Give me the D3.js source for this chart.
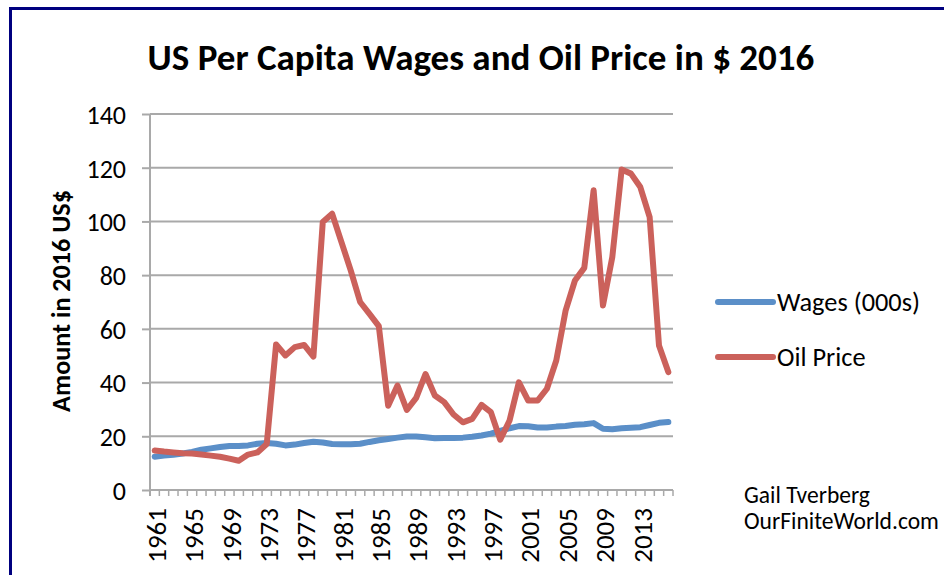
<!DOCTYPE html>
<html><head><meta charset="utf-8">
<script src="https://cdn.jsdelivr.net/npm/d3@7"></script>
<style>
html,body{margin:0;padding:0;background:#fff;}
svg{display:block;}
text{font-family:Carlito,Calibri,Lato,sans-serif;fill:#000;}
</style></head>
<body>
<svg id="chart" width="944" height="575"></svg>
<script>
const years = d3.range(1961, 2017);
const wages = [12.4,12.8,13.1,13.6,14.2,15.0,15.5,16.0,16.4,16.4,16.6,17.2,17.5,17.2,16.6,16.9,17.5,18.0,17.7,17.1,
  17.0,17.0,17.2,17.9,18.5,19.0,19.5,19.9,19.9,19.6,19.3,19.4,19.4,19.5,19.8,20.3,21.0,22.0,23.0,23.8,
  23.7,23.3,23.3,23.6,23.8,24.3,24.5,24.9,22.8,22.6,23.0,23.2,23.4,24.2,25.0,25.3];
const oil = [14.7,14.3,14.0,13.7,13.6,13.2,12.8,12.4,11.7,10.9,13.2,14.0,17.1,54.2,50.1,53.2,54.0,49.7,99.8,102.9,
  92.3,81.7,70.0,65.6,61.0,31.4,38.9,29.8,34.3,43.2,35.2,32.7,28.1,25.2,26.5,31.7,29.0,18.7,25.9,40.1,
  33.3,33.3,37.7,48.2,66.8,78.0,82.7,111.6,68.7,86.7,119.3,117.8,112.8,101.6,53.8,43.9];
const yTicks = [0,20,40,60,80,100,120,140];
const labelYears = [1961,1965,1969,1973,1977,1981,1985,1989,1993,1997,2001,2005,2009,2013];
const seriesNames = ["Wages (000s)", "Oil Price"];
const seriesColors = ["#5b8fc8", "#cb615b"];
const title = "US Per Capita Wages and Oil Price in $ 2016";
const yTitle = "Amount in 2016 US$";
const credits = ["Gail Tverberg", "OurFiniteWorld.com"];

(function () {
const svg = d3.select("#chart");
const pL = 150, pR = 673, pT = 114, pB = 490;
const x = d3.scaleBand().domain(years).range([pL, pR]).paddingInner(0).paddingOuter(0);
const xc = d => x(d) + x.bandwidth() / 2;
const y = d3.scaleLinear().domain([0, 140]).range([pB, pT]);
const grid = "#a9a9a9";

// border
svg.append("rect").attr("x", 10.5).attr("y", 8.5).attr("width", 1000).attr("height", 1000)
  .attr("fill", "none").attr("stroke", "#00007f").attr("stroke-width", 3);

function fit(sel, w) {
  const fs = parseFloat(sel.attr("font-size"));
  const len = sel.node().getComputedTextLength();
  sel.attr("font-size", (fs * w / len).toFixed(2));
}
const t = svg.append("text").attr("x", 481).attr("y", 70).attr("text-anchor", "middle")
  .attr("font-weight", "bold").attr("font-size", 32).text(title);
fit(t, 667);

// gridlines
svg.append("g").selectAll("line").data(yTicks.filter(v => v > 0)).join("line")
  .attr("x1", pL).attr("x2", pR).attr("y1", d => y(d)).attr("y2", d => y(d))
  .attr("stroke", grid).attr("stroke-width", 2);

// y axis
const yAxis = svg.append("g").attr("transform", `translate(${pL},0)`)
  .call(d3.axisLeft(y).tickValues(yTicks).tickSize(8).tickPadding(16));
yAxis.select(".domain").attr("stroke", grid).attr("stroke-width", 2)
  .attr("d", `M0,${pT}V${pB + 6}`);
yAxis.selectAll(".tick line").attr("stroke", grid).attr("stroke-width", 2);
yAxis.selectAll(".tick text").attr("font-size", 26).attr("font-family", "Carlito,Calibri,Lato,sans-serif")
  .attr("fill", "#000").attr("dy", "0.36em");

// x axis
const xg = svg.append("g").attr("transform", `translate(0,${pB})`);
xg.append("line").attr("x1", pL).attr("x2", pR).attr("stroke", grid).attr("stroke-width", 2);
const bounds = years.map(d => x(d)).concat([pR]);
xg.selectAll("line.t").data(bounds.slice(1)).join("line").attr("class", "t")
  .attr("x1", d => d).attr("x2", d => d).attr("y1", 0).attr("y2", 6)
  .attr("stroke", grid).attr("stroke-width", 1.5);
xg.selectAll("text").data(labelYears).join("text")
  .attr("transform", d => `translate(${xc(d) + 1.5},18) rotate(-90)`)
  .attr("text-anchor", "end").attr("dy", "0.36em").attr("font-size", 27).text(d => d);

// y title
svg.append("text").attr("transform", "translate(70,301) rotate(-90)").attr("text-anchor", "middle")
  .attr("font-weight", "bold").attr("font-size", 22).text(yTitle).call(s => fit(s, 222));

// lines
const lineGen = vals => d3.line().x((d, i) => xc(years[i])).y(d => y(d))(vals);
[wages, oil].forEach((vals, k) => {
  svg.append("path").attr("d", lineGen(vals)).attr("fill", "none")
    .attr("stroke", seriesColors[k]).attr("stroke-width", 6)
    .attr("stroke-linejoin", "round").attr("stroke-linecap", "round");
});

// legend
const legY = [302, 357];
let legFs = 24;
seriesNames.forEach((n, k) => {
  svg.append("line").attr("x1", 718).attr("x2", 773).attr("y1", legY[k]).attr("y2", legY[k])
    .attr("stroke", seriesColors[k]).attr("stroke-width", 6).attr("stroke-linecap", "round");
  const tx = svg.append("text").attr("x", 777).attr("y", legY[k]).attr("dy", "0.36em")
    .attr("font-size", legFs).text(n);
  if (k === 0) { fit(tx, 143); legFs = tx.attr("font-size"); }
});

// credits
svg.append("text").attr("x", 744).attr("y", 503).attr("font-size", 22).text(credits[0]).call(s => fit(s, 126));
svg.append("text").attr("x", 744).attr("y", 529).attr("font-size", 22).text(credits[1]).call(s => fit(s, 195));
})();
</script>
</body></html>
